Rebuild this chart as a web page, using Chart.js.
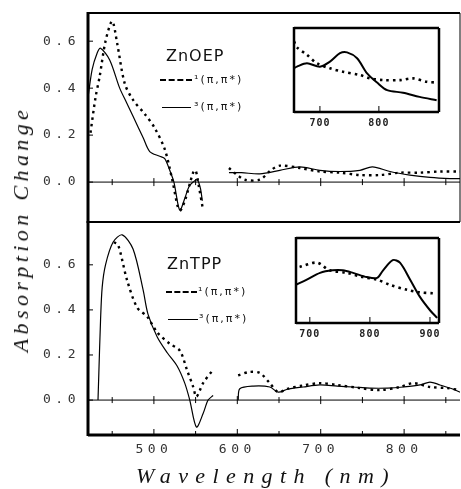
<!DOCTYPE html>
<html>
<head>
<meta charset="utf-8">
<script src="https://cdn.jsdelivr.net/npm/chart.js@4.4.0/dist/chart.umd.min.js"></script>
<style>
  body { margin: 0; background: #fff; }
  #wrap { position: relative; width: 461px; height: 489px; overflow: hidden; background: #fff; }
  canvas { position: absolute; }
  .txt { position: absolute; white-space: nowrap; color: #111; }
  .ytitle { left: 21px; top: 229px; transform: translate(-50%, -50%) rotate(-90deg);
            font: italic 22px "Liberation Serif"; letter-spacing: 4.4px; }
  .xtitle { left: 266px; top: 476px; transform: translate(-50%, -50%);
            font: italic 22px "Liberation Serif"; letter-spacing: 7.4px; }
  .name { font: 16px "DejaVu Sans"; letter-spacing: 1px; line-height: 18px; }
  .lg { font: 11px "DejaVu Sans"; letter-spacing: 2px; line-height: 12px; }
  .key { position: absolute; height: 0; }
  .dash { border-top: 2px dashed #000; }
  .solid { border-top: 1.5px solid #000; }
</style>
</head>
<body>
<div id="wrap">
  <canvas id="grafico1" width="461" height="223" style="left:0;top:0"></canvas>
  <canvas id="grafico2" width="461" height="268" style="left:0;top:221px"></canvas>
  <canvas id="inset1" width="172" height="117" style="left:280px;top:18px"></canvas>
  <canvas id="inset2" width="172" height="118" style="left:282px;top:228px"></canvas>

  <div class="txt ytitle">Absorption Change</div>
  <div class="txt xtitle">Wavelength (nm)</div>

  <div class="txt name" style="left:166px;top:47px">ZnOEP</div>
  <div class="key dash" style="left:160px;top:79px;width:32px"></div>
  <div class="txt lg" style="left:194px;top:74px">¹(π,π*)</div>
  <div class="key solid" style="left:162px;top:107px;width:29px"></div>
  <div class="txt lg" style="left:194px;top:101px">³(π,π*)</div>

  <div class="txt name" style="left:167px;top:255px">ZnTPP</div>
  <div class="key dash" style="left:166px;top:291px;width:31px"></div>
  <div class="txt lg" style="left:198px;top:286px">¹(π,π*)</div>
  <div class="key solid" style="left:168px;top:319px;width:30px"></div>
  <div class="txt lg" style="left:199px;top:313px">³(π,π*)</div>
</div>

<script>
// ---- tick labels
const mainXTicks = [450, 500, 550, 600, 650, 700, 750, 800, 850];
const mainYTicks = [0, 0.2, 0.4, 0.6];
const insetTopTicks = [700, 800];
const insetBottomTicks = [700, 800, 900];

// ---- ZnOEP (top panel), null = gap in the trace
const oepSingletNm = [424, 430, 435, 442, 450, 456, 465, 475, 489, 501, 513, 522, 529, 532, 538, 547, 550, 554, 559,
                      575, 590, 600, 609, 627, 640, 651, 675, 699, 723, 747, 771, 795, 819, 843, 867];
const oepSinglet = [0.21, 0.36, 0.45, 0.60, 0.685, 0.59, 0.42, 0.35, 0.29, 0.23, 0.14, 0.01, -0.11, -0.12, -0.07, 0.04, 0.05, -0.02, -0.12,
                    null, 0.06, 0.03, 0.01, 0.01, 0.05, 0.07, 0.06, 0.045, 0.04, 0.03, 0.03, 0.04, 0.04, 0.045, 0.045];
const oepTripletNm = [421, 426, 432, 436, 447, 459, 467, 475, 487, 495, 507, 513, 519, 524, 531, 537, 542, 547, 552, 556, 558,
                      575, 590, 605, 627, 651, 675, 699, 723, 747, 762, 783, 807, 831, 855, 867];
const oepTriplet = [0.36, 0.48, 0.55, 0.57, 0.52, 0.40, 0.34, 0.28, 0.19, 0.13, 0.11, 0.10, 0.05, 0.0, -0.12, -0.07, -0.02, 0.0, 0.01, -0.03, -0.08,
                    null, 0.04, 0.04, 0.035, 0.05, 0.065, 0.05, 0.045, 0.05, 0.065, 0.045, 0.03, 0.02, 0.015, 0.015];

// ---- ZnTPP (bottom panel)
const tppSingletNm = [452, 457, 468, 480, 492, 504, 519, 531, 540, 547, 551, 559, 570,
                      585, 601, 615, 627, 639, 649, 660, 679, 699, 720, 747, 771, 795, 811, 831, 852, 867];
const tppSinglet = [0.70, 0.69, 0.53, 0.41, 0.37, 0.30, 0.25, 0.22, 0.13, 0.06, 0.015, 0.075, 0.13,
                    null, 0.11, 0.125, 0.12, 0.075, 0.035, 0.05, 0.065, 0.075, 0.067, 0.053, 0.044, 0.058, 0.075, 0.058, 0.053, 0.044];
const tppTripletNm = [433, 434, 436, 438, 442, 451, 462, 475, 487, 493, 504, 516, 528, 537, 543, 551, 559, 565, 571,
                      585, 601, 603, 619, 639, 649, 660, 679, 699, 720, 739, 759, 780, 799, 819, 831, 843, 859, 867];
const tppTriplet = [0, 0.12, 0.35, 0.5, 0.6, 0.70, 0.733, 0.67, 0.49, 0.38, 0.28, 0.21, 0.15, 0.075, 0, -0.12, -0.06, 0, 0.02,
                    null, 0.0, 0.05, 0.062, 0.058, 0.035, 0.048, 0.058, 0.067, 0.062, 0.058, 0.053, 0.053, 0.058, 0.067, 0.08, 0.067, 0.048, 0.035];

// ---- insets (arbitrary units)
const inOepSingletNm = [656, 661, 678, 695, 717, 739, 768, 785, 807, 836, 858, 881, 898];
const inOepSinglet = [0.84, 0.77, 0.68, 0.58, 0.52, 0.48, 0.44, 0.40, 0.38, 0.38, 0.40, 0.36, 0.35];
const inOepTripletNm = [656, 661, 678, 700, 717, 734, 746, 763, 780, 797, 814, 841, 869, 898];
const inOepTriplet = [0.52, 0.54, 0.58, 0.54, 0.60, 0.70, 0.71, 0.64, 0.46, 0.35, 0.26, 0.23, 0.18, 0.14];
const inTppSingletNm = [683, 712, 733, 762, 788, 812, 833, 862, 883, 905];
const inTppSinglet = [0.66, 0.71, 0.62, 0.59, 0.54, 0.51, 0.45, 0.39, 0.36, 0.35];
const inTppTripletNm = [677, 695, 717, 738, 755, 772, 795, 812, 822, 838, 850, 867, 883, 900, 912];
const inTppTriplet = [0.45, 0.51, 0.59, 0.62, 0.62, 0.59, 0.54, 0.53, 0.62, 0.74, 0.71, 0.51, 0.31, 0.15, 0.06];

function pts(xs, ys) {
    return xs.map((x, i) => ({ x: x, y: ys[i] }));
}

function dotted(xs, ys, w) {
    return { data: pts(xs, ys), borderColor: '#000', borderWidth: w, borderDash: [2.5, 4], spanGaps: false };
}
function solid(xs, ys, w) {
    return { data: pts(xs, ys), borderColor: '#000', borderWidth: w, spanGaps: false };
}

// frame, zero line and inward tick marks
const framePlugin = {
    id: 'frame',
    beforeDraw(chart, args, opts) {
        chart.ctx.letterSpacing = opts.spacing || '0px';
    },
    afterDraw(chart, args, opts) {
        const ctx = chart.ctx;
        const a = chart.chartArea;
        const x = chart.scales.x, y = chart.scales.y;
        const seg = (x1, y1, x2, y2, w) => {
            ctx.lineWidth = w;
            ctx.beginPath(); ctx.moveTo(x1, y1); ctx.lineTo(x2, y2); ctx.stroke();
        };
        ctx.save();
        ctx.letterSpacing = '0px';
        ctx.strokeStyle = '#000';
        seg(a.left, a.top, a.right, a.top, opts.top);
        seg(a.left, a.bottom, a.right, a.bottom, opts.bottom);
        seg(a.left, a.top - 1, a.left, a.bottom + 1, opts.left);
        if (opts.right) seg(a.right, a.top, a.right, a.bottom, opts.right);
        if (opts.main) {
            const y0 = y.getPixelForValue(0);
            seg(a.left, y0, a.right, y0, 1);
            mainXTicks.forEach(v => {
                const px = x.getPixelForValue(v);
                const h = v % 100 === 0 ? 4 : 3;
                seg(px, y0 - h, px, y0 + h, 1);
            });
            mainYTicks.forEach(v => {
                const py = y.getPixelForValue(v);
                seg(a.left, py, a.left + 5, py, 1);
            });
        }
        if (opts.bottomTicks) {
            opts.bottomTicks.forEach(v => {
                const px = x.getPixelForValue(v);
                const h = v % 100 === 0 ? 6 : 4;
                seg(px, a.bottom, px, a.bottom - h, 1);
            });
        }
        ctx.restore();
    }
};

const tickFont = { family: 'DejaVu Sans Mono', size: 13 };

// no automatic label padding, the frame is placed by hand
function noPad(s) {
    s.paddingTop = 0; s.paddingBottom = 0; s.paddingLeft = 0; s.paddingRight = 0;
}

function yMain(min, max) {
    return {
        type: 'linear', min: min, max: max,
        afterFit: s => { s.width = 88; noPad(s); },
        afterBuildTicks: s => { s.ticks = mainYTicks.map(v => ({ value: v })); },
        grid: { display: false, drawTicks: false },
        border: { display: false },
        ticks: { padding: 8, color: '#333', font: tickFont, callback: v => v.toFixed(1) }
    };
}

const ctx1 = document.getElementById('grafico1');
const ctx2 = document.getElementById('grafico2');
const ctx3 = document.getElementById('inset1');
const ctx4 = document.getElementById('inset2');

new Chart(ctx1, {
    type: 'line',
    data: {
        datasets: [
            dotted(oepSingletNm, oepSinglet, 2.4),
            solid(oepTripletNm, oepTriplet, 1.2)
        ]
    },
    options: {
        responsive: false,
        animation: false,
        layout: { padding: { left: 0, top: 13, right: 1, bottom: 1 } },
        elements: { point: { radius: 0 }, line: { tension: 0.3 } },
        plugins: {
            legend: { display: false },
            tooltip: { enabled: false },
            frame: { top: 2, bottom: 2, left: 3, right: 1, main: true, spacing: '4.5px' }
        },
        scales: {
            x: { type: 'linear', display: false, min: 421, max: 867 },
            y: yMain(-0.17, 0.72)
        }
    },
    plugins: [framePlugin]
});

new Chart(ctx2, {
    type: 'line',
    data: {
        datasets: [
            dotted(tppSingletNm, tppSinglet, 2.4),
            solid(tppTripletNm, tppTriplet, 1.2)
        ]
    },
    options: {
        responsive: false,
        animation: false,
        layout: { padding: { left: 0, top: 1, right: 1, bottom: 0 } },
        elements: { point: { radius: 0 }, line: { tension: 0.3 } },
        plugins: {
            legend: { display: false },
            tooltip: { enabled: false },
            frame: { top: 2, bottom: 3, left: 3, right: 0, main: true, bottomTicks: mainXTicks, spacing: '4.5px' }
        },
        scales: {
            x: {
                type: 'linear', min: 421, max: 867,
                afterFit: s => { s.height = 54; noPad(s); },
                afterBuildTicks: s => { s.ticks = mainXTicks.map(v => ({ value: v })); },
                grid: { display: false, drawTicks: false },
                border: { display: false },
                ticks: { padding: 7, color: '#333', font: tickFont, maxRotation: 0, autoSkip: false,
                         callback: v => (v % 100 === 0 ? String(v) : '') }
            },
            y: yMain(-0.155, 0.79)
        }
    },
    plugins: [framePlugin]
});

function insetOptions(min, max, ticks, padRight) {
    return {
        responsive: false,
        animation: false,
        layout: { padding: { left: 14, top: 10, right: padRight, bottom: 0 } },
        elements: { point: { radius: 0 }, line: { tension: 0.3 } },
        plugins: {
            legend: { display: false },
            tooltip: { enabled: false },
            frame: { top: 2.5, bottom: 2.5, left: 2.5, right: 2.5, bottomTicks: ticks, spacing: '1px' }
        },
        scales: {
            x: {
                type: 'linear', min: min, max: max,
                afterFit: s => { s.height = 23; noPad(s); },
                afterBuildTicks: s => { s.ticks = ticks.map(v => ({ value: v })); },
                grid: { display: false, drawTicks: false },
                border: { display: false },
                ticks: { padding: 5, color: '#222', font: { family: 'DejaVu Sans Mono', size: 10, weight: 'bold' },
                         maxRotation: 0, autoSkip: false }
            },
            y: { type: 'linear', display: false, min: 0, max: 1 }
        }
    };
}

new Chart(ctx3, {
    type: 'line',
    data: {
        datasets: [
            dotted(inOepSingletNm, inOepSinglet, 2.6),
            solid(inOepTripletNm, inOepTriplet, 2)
        ]
    },
    options: insetOptions(656, 902, insetTopTicks, 13),
    plugins: [framePlugin]
});

new Chart(ctx4, {
    type: 'line',
    data: {
        datasets: [
            dotted(inTppSingletNm, inTppSinglet, 2.6),
            solid(inTppTripletNm, inTppTriplet, 2)
        ]
    },
    options: insetOptions(677, 915, insetBottomTicks, 15),
    plugins: [framePlugin]
});
</script>
</body>
</html>
